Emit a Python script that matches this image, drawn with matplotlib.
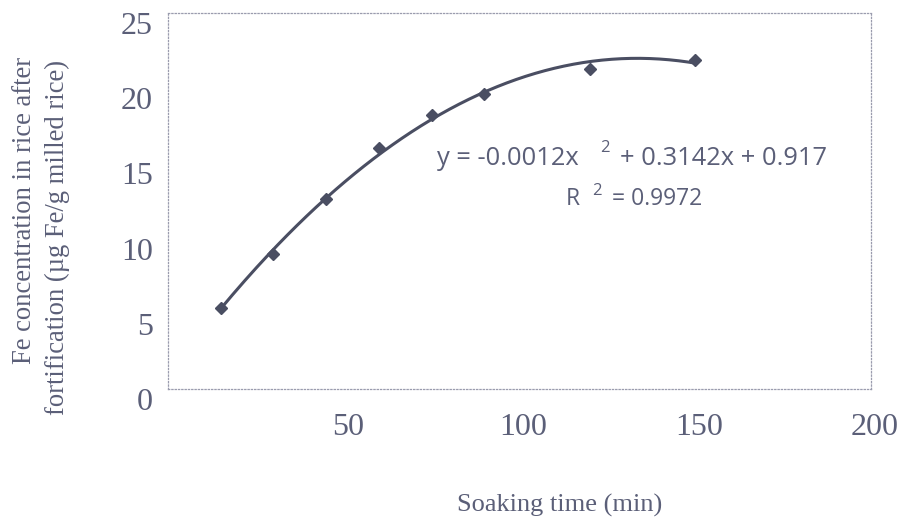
import numpy as np
import matplotlib
matplotlib.use("Agg")
import matplotlib.pyplot as plt
import matplotlib.transforms as mtransforms

# Data
soak_time = [15, 30, 45, 60, 75, 90, 120, 150]
fe_conc = [5.4, 9.0, 12.6, 16.0, 18.2, 19.6, 21.3, 21.9]
x_ticks = [50, 100, 150, 200]
y_ticks = [0, 5, 10, 15, 20, 25]

W, H = 907, 524
fig = plt.figure(figsize=(W / 100, H / 100), dpi=100)
ax = fig.add_axes([168 / W, 1 - 389 / H, (871 - 168) / W, (389 - 13) / H])

text_col = "#5b5f78"
mark_col = "#4a4e62"
serif = ["Liberation Serif", "DejaVu Serif"]
sans = ["Open Sans", "DejaVu Sans"]

# quadratic trendline fitted to the data
coef = np.polyfit(soak_time, fe_conc, 2)
xs = np.linspace(min(soak_time), max(soak_time), 200)
ax.plot(xs, np.polyval(coef, xs), color=mark_col, lw=2.2, zorder=2)
ax.plot(soak_time, fe_conc, linestyle="none", marker="D", markersize=6,
        color=mark_col, zorder=3)

ax.set_xlim(0, 200)
ax.set_ylim(0, 25)
ax.set_xticks(x_ticks)
ax.set_yticks(y_ticks)
ax.tick_params(length=0, labelsize=23, colors=text_col)
ax.tick_params(axis="x", pad=17)
ax.tick_params(axis="y", pad=11)
offx = mtransforms.ScaledTranslation(4 / 100, 0, fig.dpi_scale_trans)
offy = mtransforms.ScaledTranslation(0, -10 / 100, fig.dpi_scale_trans)
for lab in ax.get_xticklabels():
    lab.set_family(serif)
    lab.set_transform(lab.get_transform() + offx)
for lab in ax.get_yticklabels():
    lab.set_family(serif)
    lab.set_transform(lab.get_transform() + offy)

for s in ax.spines.values():
    s.set_linestyle(":")
    s.set_color("#9a9cae")
    s.set_linewidth(0.9)

fig.text(560 / W, 1 - 505 / H, "Soaking time (min)", family=serif, fontsize=19,
         color=text_col, ha="center", va="center")
fig.text(25 / W, 1 - 210 / H, "Fe concentration in rice after", family=serif,
         fontsize=19.2, color=text_col, rotation=90, ha="center", va="center")
fig.text(57 / W, 1 - 238 / H, "fortification (µg Fe/g milled rice)", family=serif,
         fontsize=19.2, color=text_col, rotation=90, ha="center", va="center")

# trendline equation
fig.text(437 / W, 1 - 165 / H, "y = -0.0012x", family=sans, fontsize=18.4,
         color=text_col, ha="left", va="baseline")
fig.text(600 / W, 1 - 152 / H, "2", family=sans, fontsize=12,
         color=text_col, ha="left", va="baseline")
fig.text(620 / W, 1 - 165 / H, "+ 0.3142x + 0.917", family=sans, fontsize=18.4,
         color=text_col, ha="left", va="baseline")
fig.text(566 / W, 1 - 205 / H, "R", family=sans, fontsize=16.5,
         color=text_col, ha="left", va="baseline")
fig.text(592 / W, 1 - 195 / H, "2", family=sans, fontsize=12,
         color=text_col, ha="left", va="baseline")
fig.text(612 / W, 1 - 205 / H, "= 0.9972", family=sans, fontsize=16.5,
         color=text_col, ha="left", va="baseline")

fig.savefig("out.png", dpi=100)
